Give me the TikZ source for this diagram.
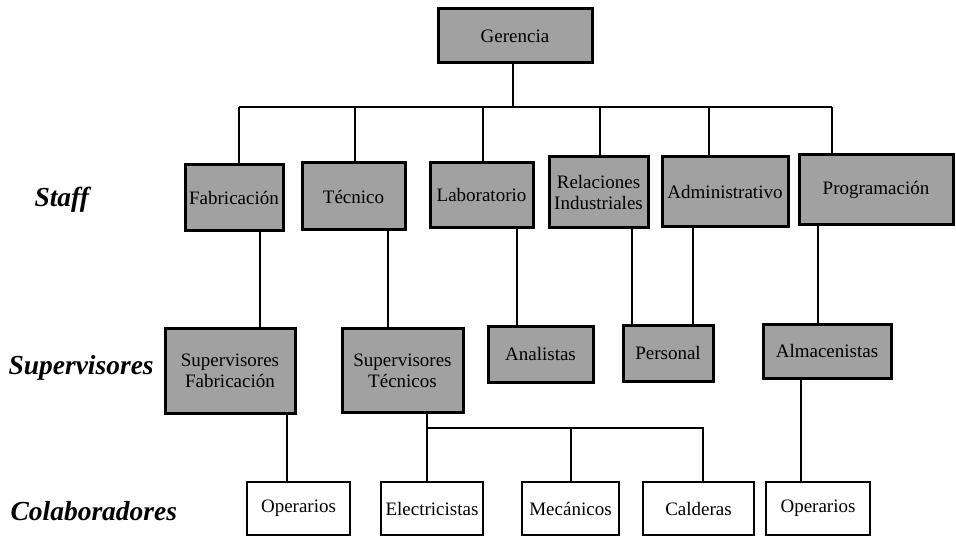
\documentclass[tikz,border=0pt]{standalone}
\usepackage{fontspec}
\setmainfont{Liberation Serif}
\usetikzlibrary{positioning}

\begin{document}
\begin{tikzpicture}[x=1pt,y=-1pt,
  every node/.style={font=\fontsize{19}{21}\selectfont},
  gbox/.style={draw,line width=3pt,fill=black!37,inner sep=0pt,align=center},
  wbox/.style={draw,line width=2.8pt,fill=white,inner sep=0pt,align=center},
  level/.style={anchor=west,font=\fontsize{27.5}{30}\selectfont\bfseries\itshape},
  conn/.style={line width=2pt}]
\useasboundingbox (0,0) rectangle (956,537);
% level labels
\node[level] (lstaff) at (31,200) {Staff};
\node[level] (lsup) at (5,368) {Supervisores};
\node[level] (lcol) at (7,511) {Colaboradores};
% top
\node[gbox,minimum width=154,minimum height=54] (ger) at (515,36) {Gerencia};
% staff
\node[gbox,minimum width=98,minimum height=66] (fab) at (234,198) {Fabricación};
\node[gbox,minimum width=103,minimum height=67] (tec) at (353.5,196.5) {Técnico};
\node[gbox,minimum width=103,minimum height=65] (lab) at (481.5,195.5) {Laboratorio};
\node[gbox,minimum width=99,minimum height=71] (rel) at (598.5,192.5) {Relaciones\\Industriales};
\node[gbox,minimum width=126,minimum height=70] (adm) at (725,192) {Administrativo};
\node[gbox,minimum width=154,minimum height=70] (prog) at (876,190) {Programación};
% supervisores
\node[gbox,minimum width=130,minimum height=84] (supfab) at (230,371) {Supervisores\\Fabricación};
\node[gbox,minimum width=121,minimum height=83] (suptec) at (402.5,370.5) {Supervisores\\Técnicos};
\node[gbox,minimum width=105,minimum height=55] (anal) at (540.5,354.5) {Analistas};
\node[gbox,minimum width=90,minimum height=55] (pers) at (668,353.5) {Personal};
\node[gbox,minimum width=128,minimum height=53] (alm) at (827,351.5) {Almacenistas};
% colaboradores
\node[wbox,minimum width=103,minimum height=53] (oper) at (298.5,508.5) {Operarios};
\node[wbox,minimum width=102,minimum height=53] (elec) at (432,508.5) {Electricistas};
\node[wbox,minimum width=97,minimum height=53] (mec) at (570.5,508.5) {Mecánicos};
\node[wbox,minimum width=111,minimum height=53] (cald) at (698.5,508.5) {Calderas};
\node[wbox,minimum width=104,minimum height=53] (operb) at (818,508.5) {Operarios};
% bus under Gerencia
\coordinate (busl) at (239,107);
\coordinate (busr) at (832,107);
\draw[conn] (busl) -- (busr);
\draw[conn] ([xshift=-2]ger.south) -- ([xshift=-2]ger.south |- busl);
\foreach \n/\d in {fab/5,tec/1.5,lab/1.5,rel/1.5,adm/-16,prog/-44}
  \draw[conn] ([xshift=\d]\n.north |- busl) -- ([xshift=\d]\n.north);
% staff to supervisores
\foreach \a/\b/\d in {fab/supfab/26,tec/suptec/34.5,lab/anal/35.5,rel/pers/33.5,adm/pers/-32,prog/alm/-58.5}
  \draw[conn] ([xshift=\d]\a.south) -- ([xshift=\d]\a.south |- \b.north);
% supervisores to colaboradores
\draw[conn] ([xshift=57]supfab.south) -- ([xshift=57]supfab.south |- oper.north);
\draw[conn] ([xshift=-26]alm.south) -- ([xshift=-26]alm.south |- operb.north);
\coordinate (tbus) at (0,428);
\draw[conn] ([xshift=24.5]suptec.south) -- ([xshift=24.5]suptec.south |- elec.north);
\draw[conn] ([xshift=24.5]suptec.south |- tbus) -- ([xshift=4.5]cald.north |- tbus) -- ([xshift=4.5]cald.north);
\draw[conn] (mec.north |- tbus) -- (mec.north);
\end{tikzpicture}
\end{document}
